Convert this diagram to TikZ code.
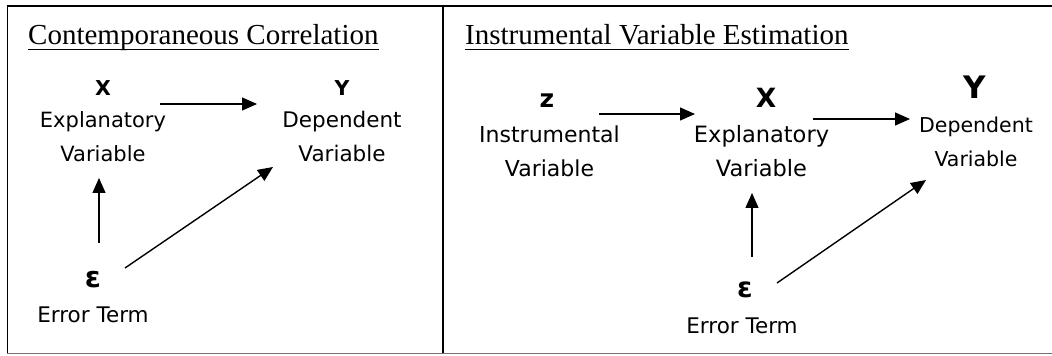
\documentclass[tikz,border=0pt]{standalone}
\usepackage{fontspec}
\setmainfont{Liberation Serif}
\newfontfamily\lblfont{DejaVu Sans}
\usetikzlibrary{arrows.meta}
\tikzset{
  heading/.style = {anchor=base west, inner sep=0pt,
                    font=\fontsize{29}{34}\selectfont},
  symb/.style    = {anchor=base, inner sep=0pt,
                    font=\lblfont\bfseries\fontsize{#1}{#1}\selectfont},
  descr/.style   = {anchor=base, inner sep=0pt, align=center,
                    font=\lblfont\fontsize{#1}{34}\selectfont},
  link/.style    = {-{Triangle[length=15pt,width=13pt]}, line width=1.4pt},
  uline/.style   = {line width=1.3pt},
}

\begin{document}
\begin{tikzpicture}[x=1pt, y=1pt]
  \useasboundingbox (0,0) rectangle (1052,356);
  % frame
  \draw[line width=2pt] (6.6,349.5) -- (1052,349.5);
  \draw[line width=0.8pt] (7,349.5) -- (7,3);
  \draw[line width=0.8pt, black!55] (7,3) -- (1052,3);
  \draw[line width=2pt] (443,349.5) -- (443,3);

  % contemporaneous correlation
  \node[heading] (ttlL) at (28,311) {Contemporaneous Correlation};
  \draw[uline] ([yshift=-4.5pt]ttlL.base west) -- ([yshift=-4.5pt]ttlL.base east);
  \node[symb=20.5] (xL) at (103,260) {X};
  \node[descr=21] (xLd) at (103,194) {Explanatory\\Variable};
  \node[symb=20.5] (yL) at (342,260) {Y};
  \node[descr=21.5] (yLd) at (342,194) {Dependent\\Variable};
  \node[symb=29]  (eL)  at (93,68) {ε};
  \node[descr=21.5] (eLd) at (93,33) {Error Term};
  \draw[link] ([shift={(57,58)}]xLd.base) -- ([shift={(-85,58)}]yLd.base);
  \draw[link] ([shift={(6,45)}]eL.base) -- ([shift={(-4,-16)}]xLd.base);
  \draw[link] ([shift={(32,20)}]eL.base) -- ([shift={(-69,-5)}]yLd.base);

  % instrumental variable estimation
  \node[heading] (ttlR) at (465,311) {Instrumental Variable Estimation};
  \draw[uline] ([yshift=-4.5pt]ttlR.base west) -- ([yshift=-4.5pt]ttlR.base east);
  \node[symb=25]  (zR)  at (547,248) {z};
  \node[descr=22] (zRd) at (549.5,179) {Instrumental\\Variable};
  \node[symb=26.5] (xR) at (766,248) {X};
  \node[descr=22.5] (xRd) at (761.5,179) {Explanatory\\Variable};
  \node[symb=31]  (yR)  at (975,257) {Y};
  \node[descr=20.5] (yRd) at (976,189) {Dependent\\Variable};
  \node[symb=28]  (eR)  at (745,58) {ε};
  \node[descr=21.5] (eRd) at (742,23) {Error Term};
  \draw[link] ([shift={(49.5,63)}]zRd.base) -- ([shift={(-66.5,63)}]xRd.base);
  \draw[link] ([shift={(51.5,58)}]xRd.base) -- ([shift={(-66,48)}]yRd.base);
  \draw[link] ([shift={(7,41)}]eR.base) -- ([shift={(-9.5,-16)}]xRd.base);
  \draw[link] ([shift={(32,15)}]eR.base) -- ([shift={(-50,-13)}]yRd.base);
\end{tikzpicture}
\end{document}
